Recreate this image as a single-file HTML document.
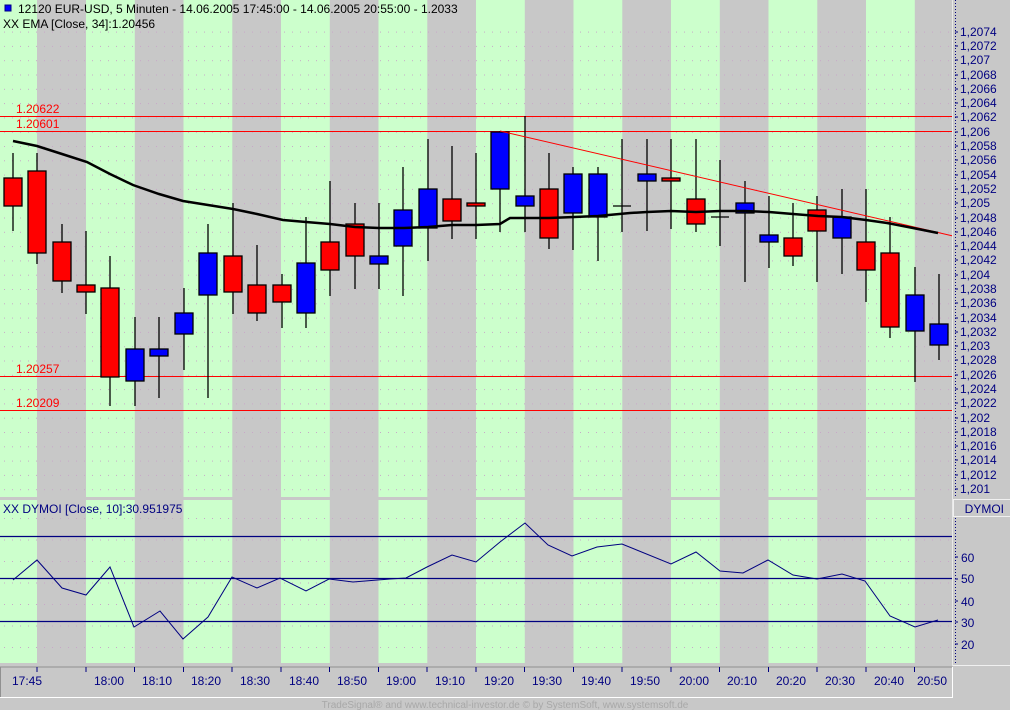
<!DOCTYPE html>
<html><head><meta charset="utf-8"><style>
html,body{margin:0;padding:0;background:#c8c8c8;}
svg{display:block;font-family:"Liberation Sans",Arial,sans-serif;}
</style></head><body>
<svg width="1010" height="710" viewBox="0 0 1010 710" xmlns="http://www.w3.org/2000/svg">
<defs>
<pattern id="dots" x="4" y="3" width="8" height="14.3" patternUnits="userSpaceOnUse"><rect x="0" y="0" width="1" height="1" fill="#c8a8c8"/></pattern>
<pattern id="dots2" x="4" y="2" width="8" height="21.5" patternUnits="userSpaceOnUse"><rect x="0" y="0" width="1" height="1" fill="#c8a8c8"/></pattern>
</defs>
<rect width="1010" height="710" fill="#c8c8c8"/>
<g id="stripes">
<rect x="0" y="0" width="37" height="497" fill="#ccffcc"/>
<rect x="0" y="500" width="37" height="163" fill="#ccffcc"/>
</g>
<script>
</script>
<!-- green stripes -->
<g fill="#ccffcc">
<rect x="86" y="0" width="48.8" height="497"/><rect x="183.5" y="0" width="48.8" height="497"/><rect x="281" y="0" width="48.8" height="497"/><rect x="378.5" y="0" width="48.8" height="497"/><rect x="476" y="0" width="48.8" height="497"/><rect x="573.5" y="0" width="48.8" height="497"/><rect x="671" y="0" width="48.8" height="497"/><rect x="768.5" y="0" width="48.8" height="497"/><rect x="866" y="0" width="48.8" height="497"/>
<rect x="86" y="500" width="48.8" height="163"/><rect x="183.5" y="500" width="48.8" height="163"/><rect x="281" y="500" width="48.8" height="163"/><rect x="378.5" y="500" width="48.8" height="163"/><rect x="476" y="500" width="48.8" height="163"/><rect x="573.5" y="500" width="48.8" height="163"/><rect x="671" y="500" width="48.8" height="163"/><rect x="768.5" y="500" width="48.8" height="163"/><rect x="866" y="500" width="48.8" height="163"/>
</g>
<rect x="0" y="30" width="953" height="467" fill="url(#dots)"/>
<rect x="0" y="512" width="953" height="150" fill="url(#dots2)"/>

<!-- header -->
<rect x="5" y="5" width="6" height="6" fill="#0000ff" stroke="#000080"/>
<text x="18" y="13" font-size="12" fill="#000">12120  EUR-USD, 5 Minuten - 14.06.2005 17:45:00 - 14.06.2005 20:55:00 - 1.2033</text>
<text x="3" y="28" font-size="12" fill="#000">XX EMA [Close, 34]:1.20456</text>

<!-- horizontal lines -->
<g stroke="#ff0000" stroke-width="1">
<line x1="0" y1="116.5" x2="953" y2="116.5"/>
<line x1="0" y1="131.5" x2="953" y2="131.5"/>
<line x1="0" y1="376.5" x2="953" y2="376.5"/>
<line x1="0" y1="410.5" x2="953" y2="410.5"/>
</g>
<g font-size="12" fill="#ff0000">
<text x="16" y="113">1.20622</text><text x="16" y="128">1.20601</text>
<text x="16" y="373">1.20257</text><text x="16" y="407">1.20209</text>
</g>

<!-- candles -->
<g stroke="#000" stroke-width="1.3">
<line x1="13" y1="153" x2="13" y2="231"/><rect x="4" y="178" width="18" height="28" fill="#ff0000"/>
<line x1="37" y1="153" x2="37" y2="264"/><rect x="28" y="171" width="18" height="82" fill="#ff0000"/>
<line x1="62" y1="224" x2="62" y2="293"/><rect x="53" y="242" width="18" height="39" fill="#ff0000"/>
<line x1="86" y1="231" x2="86" y2="314"/><rect x="77" y="285" width="18" height="7" fill="#ff0000"/>
<line x1="110" y1="256" x2="110" y2="406"/><rect x="101" y="288" width="18" height="89" fill="#ff0000"/>
<line x1="135" y1="317" x2="135" y2="406"/><rect x="126" y="349" width="18" height="32" fill="#0000ff"/>
<line x1="159" y1="317" x2="159" y2="398"/><rect x="150" y="349" width="18" height="7" fill="#0000ff"/>
<line x1="184" y1="288" x2="184" y2="370"/><rect x="175" y="313" width="18" height="21" fill="#0000ff"/>
<line x1="208" y1="224" x2="208" y2="398"/><rect x="199" y="253" width="18" height="42" fill="#0000ff"/>
<line x1="233" y1="203" x2="233" y2="314"/><rect x="224" y="256" width="18" height="36" fill="#ff0000"/>
<line x1="257" y1="245" x2="257" y2="321"/><rect x="248" y="285" width="18" height="28" fill="#ff0000"/>
<line x1="282" y1="274" x2="282" y2="328"/><rect x="273" y="285" width="18" height="17" fill="#ff0000"/>
<line x1="306" y1="217" x2="306" y2="328"/><rect x="297" y="263" width="18" height="50" fill="#0000ff"/>
<line x1="330" y1="181" x2="330" y2="296"/><rect x="321" y="242" width="18" height="28" fill="#ff0000"/>
<line x1="355" y1="203" x2="355" y2="289"/><rect x="346" y="224" width="18" height="32" fill="#ff0000"/>
<line x1="379" y1="203" x2="379" y2="289"/><rect x="370" y="256" width="18" height="8" fill="#0000ff"/>
<line x1="403" y1="167" x2="403" y2="296"/><rect x="394" y="210" width="18" height="36" fill="#0000ff"/>
<line x1="428" y1="139" x2="428" y2="261"/><rect x="419" y="189" width="18" height="39" fill="#0000ff"/>
<line x1="452" y1="146" x2="452" y2="239"/><rect x="443" y="199" width="18" height="22" fill="#ff0000"/>
<line x1="476" y1="153" x2="476" y2="239"/><rect x="467" y="203" width="18" height="3" fill="#ff0000"/>
<line x1="500" y1="131" x2="500" y2="232"/><rect x="491" y="132" width="18" height="57" fill="#0000ff"/>
<line x1="525" y1="116" x2="525" y2="232"/><rect x="516" y="196" width="18" height="10" fill="#0000ff"/>
<line x1="549" y1="153" x2="549" y2="249"/><rect x="540" y="189" width="18" height="49" fill="#ff0000"/>
<line x1="573" y1="167" x2="573" y2="250"/><rect x="564" y="174" width="18" height="39" fill="#0000ff"/>
<line x1="598" y1="167" x2="598" y2="261"/><rect x="589" y="174" width="18" height="43" fill="#0000ff"/>
<line x1="622" y1="139" x2="622" y2="232"/><line x1="613" y1="206" x2="631" y2="206"/>
<line x1="647" y1="139" x2="647" y2="231"/><rect x="638" y="174" width="18" height="7" fill="#0000ff"/>
<line x1="671" y1="139" x2="671" y2="229"/><rect x="662" y="178" width="18" height="3" fill="#ff0000"/>
<line x1="696" y1="139" x2="696" y2="232"/><rect x="687" y="199" width="18" height="25" fill="#ff0000"/>
<line x1="720" y1="160" x2="720" y2="246"/><line x1="711" y1="217" x2="729" y2="217"/>
<line x1="745" y1="181" x2="745" y2="282"/><rect x="736" y="203" width="18" height="10" fill="#0000ff"/>
<line x1="769" y1="196" x2="769" y2="268"/><rect x="760" y="235" width="18" height="7" fill="#0000ff"/>
<line x1="793" y1="203" x2="793" y2="266"/><rect x="784" y="238" width="18" height="18" fill="#ff0000"/>
<line x1="817" y1="196" x2="817" y2="282"/><rect x="808" y="210" width="18" height="21" fill="#ff0000"/>
<line x1="842" y1="189" x2="842" y2="274"/><rect x="833" y="217" width="18" height="21" fill="#0000ff"/>
<line x1="866" y1="189" x2="866" y2="302"/><rect x="857" y="242" width="18" height="28" fill="#ff0000"/>
<line x1="890" y1="217" x2="890" y2="338"/><rect x="881" y="253" width="18" height="74" fill="#ff0000"/>
<line x1="915" y1="267" x2="915" y2="382"/><rect x="906" y="295" width="18" height="36" fill="#0000ff"/>
<line x1="939" y1="274" x2="939" y2="360"/><rect x="930" y="324" width="18" height="21" fill="#0000ff"/>
</g>

<!-- trend line -->
<line x1="500" y1="131" x2="953" y2="236" stroke="#ff0000" stroke-width="1"/>
<!-- EMA -->
<polyline fill="none" stroke="#000" stroke-width="2.5" points="13,141 37,146 62,154 87,162 110,174 133,185 159,194 183,201 208,205 233,209 257,214 283,220 306,222 330,224 355,227 379,228 404,228 428,227 452,225 476,225 500,224 510,218 525,218 549,218 574,217 598,216 630,213 647,212 671,211 696,212 720,211 745,211 769,212 793,214 818,216 842,217 866,220 887,223 913,228 938,233"/>

<!-- indicator -->
<text x="3" y="513" font-size="12" fill="#000080">XX DYMOI [Close, 10]:30.951975</text>
<g stroke="#000080" stroke-width="1.2">
<line x1="0" y1="536.5" x2="953" y2="536.5"/>
<line x1="0" y1="578.5" x2="953" y2="578.5"/>
<line x1="0" y1="621.5" x2="953" y2="621.5"/>
</g>
<polyline fill="none" stroke="#000080" stroke-width="1" points="13,580 37,560 62,588 86,595 110,567 134,627 160,611 183,639 208,617 232,577 257,588 280,578 306,591 329,579 353,582 390,579 406,578 427,567 452,555 476,562 500,542 525,523 548,545 572,556 597,547 622,544 671,564 696,552 720,571 743,573 768,560 793,575 817,579 842,574 865,581 890,616 915,627 938,620"/>

<!-- right axis -->
<line x1="952.5" y1="0" x2="952.5" y2="697" stroke="#e8e8e8"/>
<line x1="955.5" y1="0" x2="955.5" y2="497" stroke="#000080" stroke-dasharray="1,2"/>
<g font-size="12" fill="#000080">
<text x="960" y="36">1,2074</text><text x="960" y="50">1,2072</text><text x="960" y="64">1,207</text><text x="960" y="79">1,2068</text><text x="960" y="93">1,2066</text><text x="960" y="107">1,2064</text><text x="960" y="121">1,2062</text><text x="960" y="136">1,206</text><text x="960" y="150">1,2058</text><text x="960" y="164">1,2056</text><text x="960" y="179">1,2054</text><text x="960" y="193">1,2052</text><text x="960" y="207">1,205</text><text x="960" y="222">1,2048</text><text x="960" y="236">1,2046</text><text x="960" y="250">1,2044</text><text x="960" y="264">1,2042</text><text x="960" y="279">1,204</text><text x="960" y="293">1,2038</text><text x="960" y="307">1,2036</text><text x="960" y="322">1,2034</text><text x="960" y="336">1,2032</text><text x="960" y="350">1,203</text><text x="960" y="364">1,2028</text><text x="960" y="379">1,2026</text><text x="960" y="393">1,2024</text><text x="960" y="407">1,2022</text><text x="960" y="422">1,202</text><text x="960" y="436">1,2018</text><text x="960" y="450">1,2016</text><text x="960" y="464">1,2014</text><text x="960" y="479">1,2012</text><text x="960" y="493">1,201</text>
</g>
<g stroke="#000080">
<line x1="955" y1="32" x2="958" y2="32"/><line x1="955" y1="46" x2="958" y2="46"/><line x1="955" y1="60" x2="958" y2="60"/><line x1="955" y1="75" x2="958" y2="75"/><line x1="955" y1="89" x2="958" y2="89"/><line x1="955" y1="103" x2="958" y2="103"/><line x1="955" y1="117" x2="958" y2="117"/><line x1="955" y1="132" x2="958" y2="132"/><line x1="955" y1="146" x2="958" y2="146"/><line x1="955" y1="160" x2="958" y2="160"/><line x1="955" y1="175" x2="958" y2="175"/><line x1="955" y1="189" x2="958" y2="189"/><line x1="955" y1="203" x2="958" y2="203"/><line x1="955" y1="218" x2="958" y2="218"/><line x1="955" y1="232" x2="958" y2="232"/><line x1="955" y1="246" x2="958" y2="246"/><line x1="955" y1="260" x2="958" y2="260"/><line x1="955" y1="275" x2="958" y2="275"/><line x1="955" y1="289" x2="958" y2="289"/><line x1="955" y1="303" x2="958" y2="303"/><line x1="955" y1="318" x2="958" y2="318"/><line x1="955" y1="332" x2="958" y2="332"/><line x1="955" y1="346" x2="958" y2="346"/><line x1="955" y1="360" x2="958" y2="360"/><line x1="955" y1="375" x2="958" y2="375"/><line x1="955" y1="389" x2="958" y2="389"/><line x1="955" y1="403" x2="958" y2="403"/><line x1="955" y1="418" x2="958" y2="418"/><line x1="955" y1="432" x2="958" y2="432"/><line x1="955" y1="446" x2="958" y2="446"/><line x1="955" y1="460" x2="958" y2="460"/><line x1="955" y1="475" x2="958" y2="475"/><line x1="955" y1="489" x2="958" y2="489"/>
</g>
<!-- DYMOI axis -->
<rect x="953.5" y="499.5" width="57" height="17" fill="#c8c8c8" stroke="#f0f0f0"/>
<text x="1004" y="513" font-size="12" fill="#000080" text-anchor="end">DYMOI</text>
<line x1="955.5" y1="518" x2="955.5" y2="663" stroke="#000080" stroke-dasharray="1,2"/>
<g font-size="12" fill="#000080">
<text x="961" y="562">60</text><text x="961" y="583">50</text><text x="961" y="606">40</text><text x="961" y="627">30</text><text x="961" y="649">20</text>
</g>
<g stroke="#000080"><line x1="955" y1="557" x2="958" y2="557"/><line x1="955" y1="579" x2="958" y2="579"/><line x1="955" y1="601" x2="958" y2="601"/><line x1="955" y1="622" x2="958" y2="622"/><line x1="955" y1="644" x2="958" y2="644"/></g>
<line x1="953" y1="665.5" x2="1010" y2="665.5" stroke="#f0f0f0"/>

<!-- time axis -->
<line x1="0" y1="667" x2="953" y2="667" stroke="#909090"/>
<line x1="0.5" y1="667" x2="0.5" y2="697" stroke="#909090"/>
<line x1="0" y1="697.5" x2="953" y2="697.5" stroke="#ffffff"/>
<line x1="952.5" y1="667" x2="952.5" y2="698" stroke="#ffffff"/>
<g stroke="#000080">
<line x1="37" y1="667" x2="37" y2="672"/><line x1="86" y1="667" x2="86" y2="672"/><line x1="134.5" y1="667" x2="134.5" y2="672"/><line x1="183.5" y1="667" x2="183.5" y2="672"/><line x1="232" y1="667" x2="232" y2="672"/><line x1="281" y1="667" x2="281" y2="672"/><line x1="329.5" y1="667" x2="329.5" y2="672"/><line x1="378.5" y1="667" x2="378.5" y2="672"/><line x1="427" y1="667" x2="427" y2="672"/><line x1="476" y1="667" x2="476" y2="672"/><line x1="524.5" y1="667" x2="524.5" y2="672"/><line x1="573.5" y1="667" x2="573.5" y2="672"/><line x1="622" y1="667" x2="622" y2="672"/><line x1="671" y1="667" x2="671" y2="672"/><line x1="719.5" y1="667" x2="719.5" y2="672"/><line x1="768.5" y1="667" x2="768.5" y2="672"/><line x1="817" y1="667" x2="817" y2="672"/><line x1="866" y1="667" x2="866" y2="672"/><line x1="914.5" y1="667" x2="914.5" y2="672"/>
</g>
<g font-size="12" fill="#000080" text-anchor="middle">
<text x="27" y="685">17:45</text><text x="109" y="685">18:00</text><text x="157" y="685">18:10</text><text x="206" y="685">18:20</text><text x="255" y="685">18:30</text><text x="304" y="685">18:40</text><text x="352" y="685">18:50</text><text x="401" y="685">19:00</text><text x="450" y="685">19:10</text><text x="499" y="685">19:20</text><text x="547" y="685">19:30</text><text x="596" y="685">19:40</text><text x="645" y="685">19:50</text><text x="694" y="685">20:00</text><text x="742" y="685">20:10</text><text x="791" y="685">20:20</text><text x="840" y="685">20:30</text><text x="889" y="685">20:40</text><text x="932" y="685">20:50</text>
</g>
<text x="505" y="708" font-size="10" fill="#a8a8a8" text-anchor="middle">TradeSignal® and www.technical-investor.de © by  SystemSoft, www.systemsoft.de</text>
</svg>
</body></html>
